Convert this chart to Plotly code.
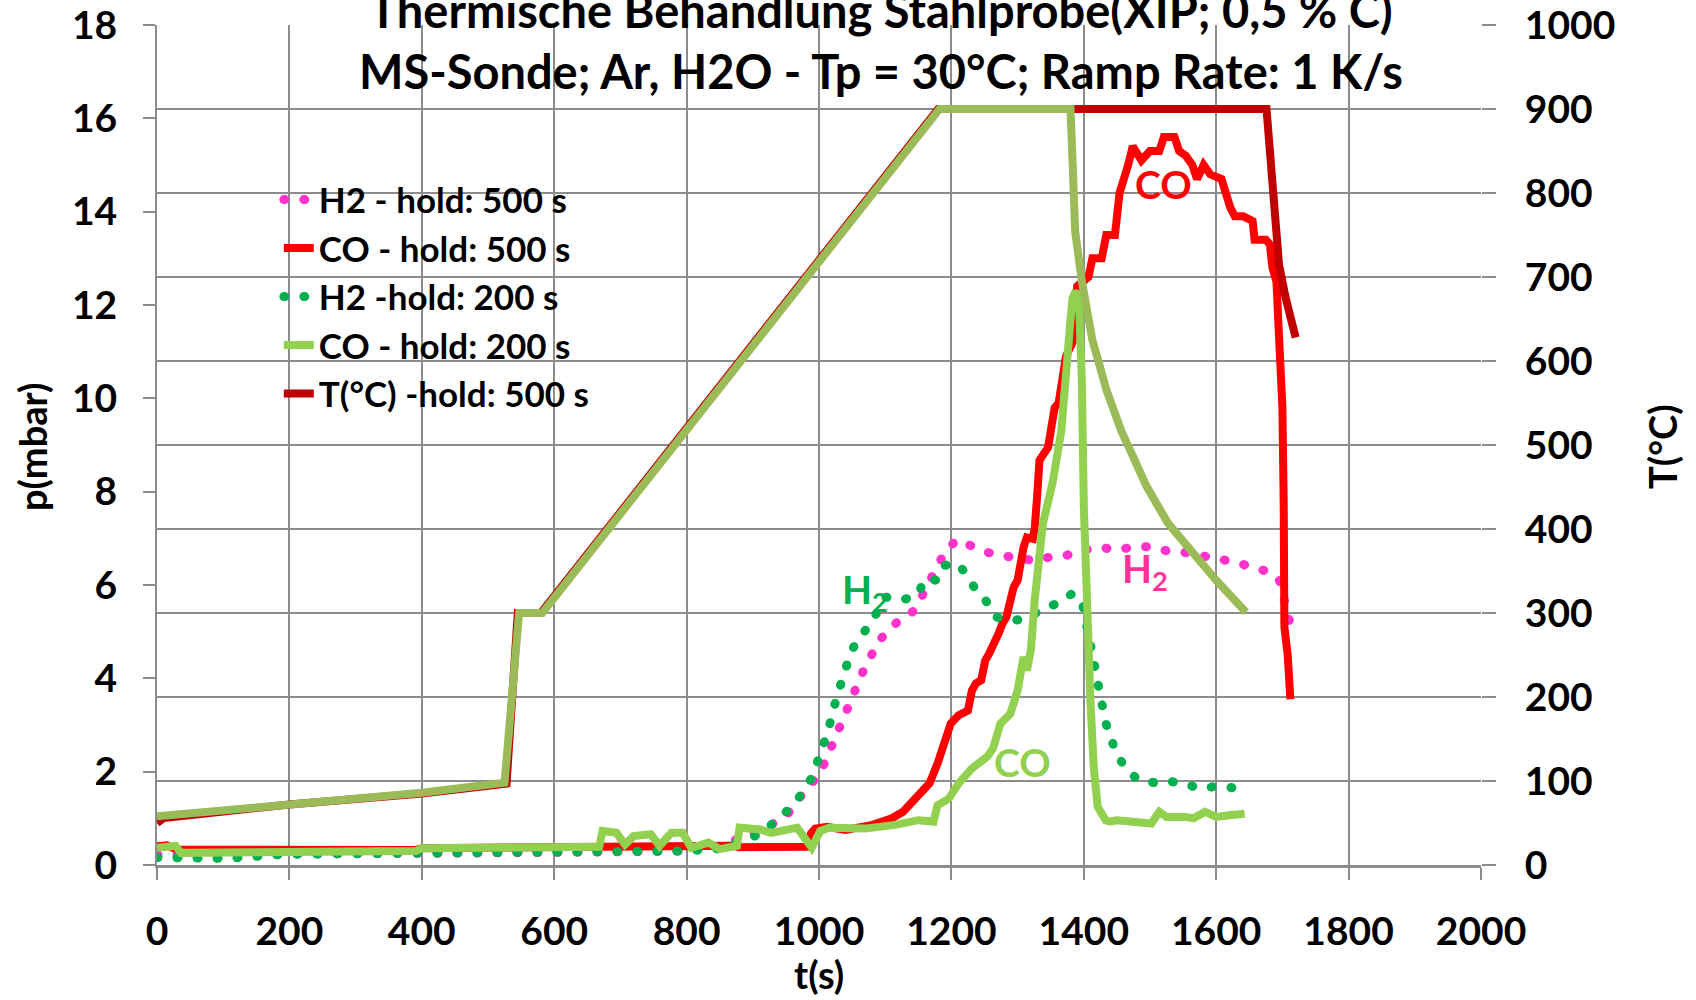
import plotly.graph_objects as go

# H2 - hold: 500 s (p in mbar)
t_h2_500 = [0, 100, 200, 300, 400, 500, 600, 700, 800, 850, 893, 920, 948, 963, 975, 995, 1007, 1026,
            1035, 1046, 1055, 1066, 1078, 1089, 1107, 1124, 1144, 1167, 1179, 1190, 1208, 1228, 1254,
            1277, 1300, 1326, 1352, 1375, 1398, 1424, 1450, 1476, 1502, 1528, 1551, 1577, 1603, 1629,
            1655, 1675, 1695, 1713]
p_h2_500 = [0.22, 0.22, 0.23, 0.24, 0.25, 0.26, 0.27, 0.28, 0.30, 0.40, 0.62, 0.80, 1.03, 1.26, 1.53, 1.85, 2.14, 2.82,
            3.14, 3.49, 3.81, 4.13, 4.46, 4.78, 5.06, 5.28, 5.45, 6.06, 6.38, 6.70, 6.97, 6.84, 6.70,
            6.63, 6.56, 6.52, 6.61, 6.64, 6.74, 6.81, 6.75, 6.82, 6.82, 6.72, 6.70, 6.64, 6.54, 6.49,
            6.38, 6.30, 6.12, 5.10]

# CO - hold: 500 s
t_co_500 = [0, 15, 30, 100, 200, 300, 390, 400, 500, 600, 660, 700, 800, 870, 880, 930, 960, 983, 988, 994,
            1012, 1040, 1081, 1110, 1127, 1144, 1167, 1179, 1190, 1199, 1211, 1225, 1231, 1237, 1245, 1251,
            1257, 1265, 1271, 1277, 1283, 1294, 1300, 1309, 1314, 1323, 1326, 1330, 1333, 1346, 1356, 1362,
            1373, 1383, 1390, 1407, 1413, 1427, 1434, 1447, 1454, 1467, 1474, 1487, 1500, 1514, 1521, 1537,
            1544, 1554, 1564, 1571, 1581, 1591, 1608, 1621, 1628, 1641, 1655, 1658, 1675, 1681, 1685, 1691,
            1695, 1700, 1702, 1703, 1708, 1712]
p_co_500 = [0.40, 0.42, 0.33, 0.32, 0.31, 0.31, 0.32, 0.36, 0.37, 0.39, 0.40, 0.42, 0.42, 0.41, 0.38, 0.40, 0.37, 0.39, 0.68, 0.78,
            0.82, 0.75, 0.86, 1.00, 1.14, 1.39, 1.75, 2.17, 2.67, 3.03, 3.21, 3.31, 3.74, 3.89, 3.96, 4.38,
            4.53, 4.74, 4.95, 5.17, 5.31, 5.95, 6.10, 6.81, 7.02, 6.99, 7.24, 8.00, 8.67, 8.95, 9.80, 9.90,
            10.9, 11.2, 12.4, 12.6, 13.0, 13.0, 13.5, 13.5, 14.4, 15.0, 15.4, 15.1, 15.3, 15.3, 15.6, 15.6,
            15.3, 15.2, 15.0, 14.7, 15.0, 14.8, 14.7, 14.1, 13.9, 13.9, 13.8, 13.4, 13.4, 13.3, 12.8, 12.5,
            11.3, 9.8, 7.7, 5.1, 4.5, 3.55]

# H2 - hold: 200 s
t_h2_200 = [0, 50, 106, 192, 300, 409, 500, 582, 650, 712, 798, 850, 876, 900, 920, 945, 963, 976, 989, 1006,
            1014, 1026, 1035, 1040, 1049, 1063, 1078, 1101, 1127, 1150, 1159, 1179, 1190, 1208, 1225, 1237,
            1254, 1268, 1293, 1314, 1338, 1361, 1383, 1398, 1413, 1418, 1424, 1427, 1433, 1441, 1450, 1463,
            1482, 1509, 1528, 1554, 1578, 1603, 1632]
p_h2_200 = [0.16, 0.15, 0.14, 0.23, 0.24, 0.24, 0.25, 0.26, 0.27, 0.29, 0.30, 0.35, 0.48, 0.60, 0.76, 1.05, 1.30, 1.58, 1.87, 2.55,
            2.89, 3.56, 3.92, 4.24, 4.60, 4.90, 5.18, 5.74, 5.68, 5.80, 6.12, 6.10, 6.42, 6.47, 6.20, 5.88,
            5.63, 5.31, 5.24, 5.28, 5.49, 5.61, 5.82, 5.60, 4.46, 4.10, 3.74, 3.39, 3.05, 2.71, 2.37, 2.08,
            1.82, 1.76, 1.80, 1.73, 1.63, 1.70, 1.64]

# CO - hold: 200 s
t_co_200 = [0, 15, 28, 36, 100, 200, 300, 391, 400, 500, 600, 668, 673, 694, 707, 720, 746, 759, 777, 794,
            807, 833, 850, 876, 880, 911, 928, 967, 989, 1002, 1015, 1069, 1115, 1150, 1173, 1179, 1196, 1211,
            1231, 1254, 1263, 1274, 1289, 1300, 1309, 1314, 1320, 1326, 1338, 1353, 1366, 1373, 1380, 1383,
            1388, 1393, 1397, 1400, 1404, 1410, 1415, 1421, 1433, 1439, 1450, 1473, 1502, 1514, 1525, 1554,
            1566, 1583, 1600, 1623, 1643]
p_co_200 = [0.37, 0.40, 0.41, 0.26, 0.27, 0.27, 0.28, 0.30, 0.36, 0.36, 0.37, 0.39, 0.73, 0.69, 0.44, 0.62, 0.66, 0.41, 0.69, 0.69,
            0.37, 0.48, 0.34, 0.41, 0.80, 0.76, 0.69, 0.80, 0.37, 0.73, 0.80, 0.78, 0.86, 0.96, 0.93, 1.28, 1.42, 1.75,
            2.07, 2.32, 2.50, 3.03, 3.24, 3.74, 4.46, 4.17, 4.60, 5.70, 7.30, 8.20, 9.30, 10.8, 11.7, 12.15,
            12.3, 12.0, 10.4, 7.7, 5.67, 3.53, 2.10, 1.25, 0.96, 0.93, 0.96, 0.93, 0.89, 1.14, 1.03, 1.03,
            1.00, 1.14, 1.03, 1.07, 1.10]

# Temperature (right axis, °C)
t_temp_500 = [0, 10, 200, 400, 528, 545, 580, 1180, 1676, 1688, 1695, 1705, 1720]
T_temp_500 = [50, 56, 72, 85, 97, 300, 300, 900, 900, 784, 714, 675, 628]

t_temp_200 = [0, 200, 400, 525, 547, 582, 1182, 1380, 1387, 1397, 1413, 1434, 1457, 1474, 1494, 1527, 1568, 1601, 1645]
T_temp_200 = [58, 73, 86, 98, 300, 300, 900, 900, 754, 695, 625, 566, 516, 487, 452, 407, 368, 338, 301]

x_ticks = list(range(0, 2001, 200))

FONT = "Lato"
GRID = "#8C8C8C"

fig = go.Figure()
dots = "1px,19px"
fig.add_trace(go.Scatter(x=t_h2_500, y=p_h2_500, mode="lines", name="H2 - hold: 500 s",
                         line=dict(color="#FF33CC", width=9, dash=dots)))
fig.add_trace(go.Scatter(x=t_co_500, y=p_co_500, mode="lines", name="CO - hold: 500 s",
                         line=dict(color="#FF0000", width=8)))
fig.add_trace(go.Scatter(x=t_h2_200, y=p_h2_200, mode="lines", name="H2 -hold: 200 s",
                         line=dict(color="#00B050", width=9, dash=dots)))
fig.add_trace(go.Scatter(x=t_co_200, y=p_co_200, mode="lines", name="CO - hold: 200 s",
                         line=dict(color="#92D050", width=8)))
fig.add_trace(go.Scatter(x=t_temp_500, y=T_temp_500, mode="lines", name="T(°C) -hold: 500 s",
                         line=dict(color="#C00000", width=8), yaxis="y2"))
fig.add_trace(go.Scatter(x=t_temp_200, y=T_temp_200, mode="lines", name="T(°C) -hold: 200 s",
                         line=dict(color="#9BBB59", width=8), yaxis="y2", showlegend=False))

tickfont = dict(family=FONT, size=39, color="black", weight="bold")

fig.update_layout(
    width=1696, height=1000,
    margin=dict(l=157, r=215, t=25, b=135, autoexpand=False),
    paper_bgcolor="white", plot_bgcolor="white",
    font=dict(family=FONT, color="black"),
    xaxis=dict(range=[0, 2000], tickvals=x_ticks, showgrid=True, gridcolor=GRID, gridwidth=2,
               ticks="outside", ticklen=12, tickcolor=GRID, tickwidth=2, ticklabelstandoff=18,
               showline=True, linecolor=GRID, linewidth=3, zeroline=False, tickfont=tickfont,
               automargin=False),
    yaxis=dict(range=[0, 18], dtick=2, showgrid=False, zeroline=False,
               ticks="outside", ticklen=12, tickcolor=GRID, tickwidth=2, ticklabelstandoff=18,
               showline=True, linecolor=GRID, linewidth=2, tickfont=tickfont, automargin=False),
    yaxis2=dict(range=[0, 1000], dtick=100, overlaying="y", side="right", showgrid=True,
                gridcolor=GRID, gridwidth=2, zeroline=False,
                ticks="outside", ticklen=14, tickcolor=GRID, tickwidth=2, ticklabelstandoff=21,
                showline=False, tickfont=tickfont, automargin=False),
    legend=dict(x=0.092, y=0.827, xanchor="left", yanchor="top", bgcolor="rgba(0,0,0,0)",
                font=dict(family=FONT, size=35, color="black", weight="bold"),
                tracegroupgap=0),
    showlegend=True,
)


def px_x(px):
    return (px - 157) / 1324


def px_y(py):
    return (865 - py) / 840


ann = []
title_font = dict(family=FONT, size=47, color="black", weight="bold")
ann.append(dict(text="Thermische Behandlung Stahlprobe(XIP; 0,5 % C)", xref="paper", yref="paper",
                x=px_x(881), y=px_y(10), showarrow=False, font=title_font,
                xanchor="center", yanchor="middle"))
ann.append(dict(text="MS-Sonde; Ar, H2O - Tp = 30°C; Ramp Rate: 1 K/s", xref="paper", yref="paper",
                x=px_x(881), y=px_y(71), showarrow=False, font=title_font,
                xanchor="center", yanchor="middle"))
axis_font = dict(family=FONT, size=38, color="black", weight="bold")
ann.append(dict(text="p(mbar)", xref="paper", yref="paper", x=px_x(32), y=px_y(447),
                showarrow=False, textangle=-90, font=axis_font, xanchor="center", yanchor="middle"))
ann.append(dict(text="T(°C)", xref="paper", yref="paper", x=px_x(1662), y=px_y(447),
                showarrow=False, textangle=-90, font=axis_font, xanchor="center", yanchor="middle"))
ann.append(dict(text="t(s)", xref="paper", yref="paper", x=px_x(819), y=px_y(974),
                showarrow=False, font=axis_font, xanchor="center", yanchor="middle"))

lab = dict(family=FONT, size=39, weight="bold")
ann.append(dict(text="CO", x=1520, y=14.6, xref="x", yref="y", showarrow=False,
                font=dict(lab, color="#FF0000")))
ann.append(dict(text="H<sub>2</sub>", x=1492, y=6.3, xref="x", yref="y", showarrow=False,
                font=dict(lab, color="#FF3399")))
ann.append(dict(text="H<sub>2</sub>", x=1070, y=5.85, xref="x", yref="y", showarrow=False,
                font=dict(lab, color="#00B050")))
ann.append(dict(text="CO", x=1308, y=2.2, xref="x", yref="y", showarrow=False,
                font=dict(lab, color="#92D050")))
fig.update_layout(annotations=ann)

page_fix = """
document.body.style.margin = '0';
var gd = document.getElementById('{plot_id}');
gd.querySelectorAll('path.js-line').forEach(function(p){
  var d = p.style.strokeDasharray;
  if (d && d !== 'none') { p.style.strokeLinecap = 'round'; }
});
"""
fig.write_html("out.html", post_script=page_fix, config={"displayModeBar": False})
